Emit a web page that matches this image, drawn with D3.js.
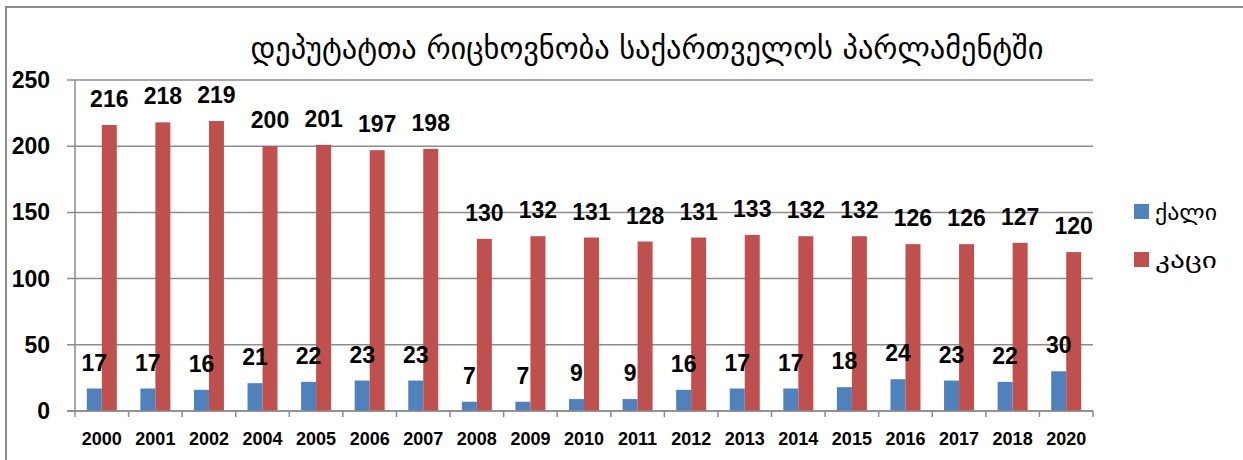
<!DOCTYPE html>
<html>
<head>
<meta charset="utf-8">
<script src="https://cdn.jsdelivr.net/npm/d3@7"></script>
<style>
html,body{margin:0;padding:0;background:#fff;}
svg{display:block;}
</style>
</head>
<body>
<svg id="chart" width="1243" height="460"></svg>
<script>
const categories = ["2000","2001","2002","2004","2005","2006","2007","2008","2009","2010","2011","2012","2013","2014","2015","2016","2017","2018","2020"];
const women = [17,17,16,21,22,23,23,7,7,9,9,16,17,17,18,24,23,22,30];
const men = [216,218,219,200,201,197,198,130,132,131,128,131,133,132,132,126,126,127,120];
const seriesNames = ["ქალი","კაცი"];
const seriesColors = ["#4F81BD","#C0504D"];
const yTicks = [0,50,100,150,200,250];
const title = "დეპუტატთა რიცხოვნობა საქართველოს პარლამენტში";

(function(){
const svg = d3.select("#chart");
const pLeft = 75, pRight = 1093, pTop = 80, pBottom = 411;
const numFont = "'Liberation Sans', Arial, sans-serif";
const geoFont = "'DejaVu Sans', sans-serif";

// outer frame
svg.append("path").attr("d", "M6,460 L6,7 L1243,7").attr("fill","none").attr("stroke","#8c8c8c").attr("stroke-width",2);

const x = d3.scaleBand().domain(categories).range([pLeft, pRight]).padding(0);
const bw = x.bandwidth();
const x1 = d3.scaleBand().domain(seriesNames).range([bw/2 - 15, bw/2 + 15]).padding(0);
const y = d3.scaleLinear().domain([0,250]).range([pBottom, pTop]);

// gridlines
svg.append("g").selectAll("line").data(yTicks).join("line")
  .attr("x1", pLeft - 8).attr("x2", pRight)
  .attr("y1", d => y(d)).attr("y2", d => y(d))
  .attr("stroke", "#8c8c8c").attr("stroke-width", 1.5);

// y axis line
svg.append("line").attr("x1", pLeft).attr("x2", pLeft).attr("y1", pTop).attr("y2", pBottom + 1)
  .attr("stroke", "#8c8c8c").attr("stroke-width", 1.5);

// y tick labels
svg.append("g").selectAll("text").data(yTicks).join("text")
  .attr("x", 50).attr("y", d => y(d)).attr("dy", "0.35em")
  .attr("text-anchor", "end").attr("font-family", numFont).attr("font-weight", "bold")
  .attr("font-size", 23).attr("fill", "#000").text(d => d);

// x boundary ticks
const bounds = categories.map(c => x(c)).concat([x(categories[categories.length-1]) + bw]);
svg.append("g").selectAll("line").data(bounds).join("line")
  .attr("x1", d => d).attr("x2", d => d).attr("y1", pBottom).attr("y2", pBottom + 6)
  .attr("stroke", "#8c8c8c").attr("stroke-width", 1.5);

// x tick labels
svg.append("g").selectAll("text").data(categories).join("text")
  .attr("x", d => x(d) + bw/2).attr("y", 439).attr("dy", "0.35em")
  .attr("text-anchor", "middle").attr("font-family", numFont).attr("font-weight", "bold")
  .attr("font-size", 18).attr("fill", "#000").text(d => d);

const seriesData = [women, men];
const barsG = svg.append("g");
const labelsG = svg.append("g");
seriesData.forEach((vals, si) => {
  barsG.append("g").selectAll("rect").data(vals).join("rect")
    .attr("x", (d,i) => x(categories[i]) + x1(seriesNames[si]))
    .attr("width", x1.bandwidth())
    .attr("y", d => y(d))
    .attr("height", d => y(0) - y(d))
    .attr("fill", seriesColors[si]);
  labelsG.append("g").selectAll("text").data(vals).join("text")
    .attr("x", (d,i) => x(categories[i]) + x1(seriesNames[si]) + x1.bandwidth()/2)
    .attr("y", d => y(d) - 26).attr("dy", "0.35em")
    .attr("text-anchor", "middle").attr("font-family", numFont).attr("font-weight", "bold")
    .attr("font-size", 23).attr("fill", "#000").text(d => d);
});

// x axis line on top of bars
svg.append("line").attr("x1", pLeft - 8).attr("x2", pRight).attr("y1", pBottom).attr("y2", pBottom)
  .attr("stroke", "#8c8c8c").attr("stroke-width", 1.5);

// title
svg.append("text").attr("x", 647).attr("y", 48).attr("dy", "0.35em")
  .attr("text-anchor", "middle").attr("font-family", geoFont).attr("font-size", 31)
  .attr("textLength", 793).attr("lengthAdjust", "spacingAndGlyphs")
  .attr("fill", "#000").text(title);

// legend
const legY = [211, 259];
seriesNames.forEach((n, i) => {
  svg.append("rect").attr("x", 1134).attr("y", legY[i] - 7).attr("width", 15).attr("height", 15).attr("fill", seriesColors[i]);
  svg.append("text").attr("x", 1155).attr("y", legY[i] + 1).attr("dy", "0.35em")
    .attr("font-family", geoFont).attr("font-size", 22)
    .attr("textLength", 62).attr("lengthAdjust", "spacingAndGlyphs")
    .attr("fill", "#000").text(n);
});
})();
</script>
</body>
</html>
